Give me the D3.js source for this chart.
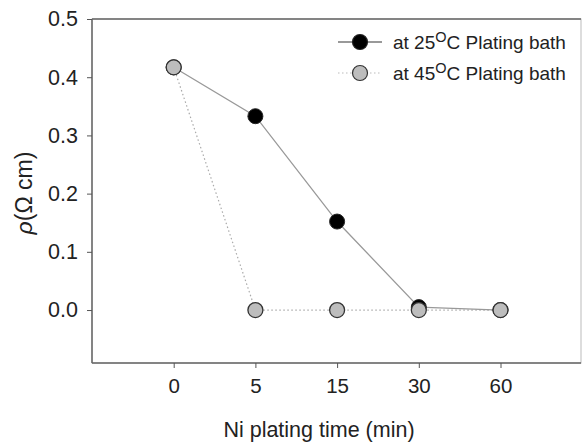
<!DOCTYPE html>
<html>
<head>
<meta charset="utf-8">
<script src="https://cdn.jsdelivr.net/npm/d3@7"></script>
<style>
body{margin:0;background:#fff;}
svg{display:block;font-family:Arial,"Liberation Sans",sans-serif;}
</style>
</head>
<body>
<svg id="chart" width="582" height="443"></svg>
<script>
const categories = ["0", "5", "15", "30", "60"];
const series25 = [0.417, 0.333, 0.152, 0.005, 0.0];
const series45 = [0.417, 0.0, 0.0, 0.0, 0.0];
const yTicks = [0.0, 0.1, 0.2, 0.3, 0.4, 0.5];
const legendLabels = ["at 25", "at 45"];

(function () {
const svg = d3.select("#chart");
const pL = 92, pR = 581, pT = 19, pB = 363;

const x = d3.scaleLinear().domain([-1, 5]).range([pL, pL + 6 * 81.7]);
const y = d3.scaleLinear().domain([-0.091, 0.5]).range([pB, pT]);

// frame
svg.append("rect").attr("x", pL).attr("y", pT).attr("width", pR - pL).attr("height", pB - pT)
  .attr("fill", "none").attr("stroke", "#bbb").attr("stroke-width", 1);
svg.append("line").attr("x1", pL).attr("x2", pR).attr("y1", pT).attr("y2", pT).attr("stroke", "#666").attr("stroke-width", 1.5);
svg.append("line").attr("x1", pL).attr("x2", pR).attr("y1", pB).attr("y2", pB).attr("stroke", "#666").attr("stroke-width", 1.5);
svg.append("line").attr("x1", pL).attr("x2", pL).attr("y1", pT).attr("y2", pB).attr("stroke", "#666").attr("stroke-width", 1.5);

// y axis
const yAxis = d3.axisLeft(y).tickValues(yTicks).tickFormat(d3.format(".1f")).tickSize(5).tickPadding(9);
const gy = svg.append("g").attr("transform", `translate(${pL},0)`).call(yAxis);
gy.select(".domain").remove();
gy.selectAll(".tick line").attr("stroke", "#555");
gy.selectAll(".tick text").attr("font-size", 21.5).attr("fill", "#222");

// x axis
const xAxis = d3.axisBottom(x).tickValues(d3.range(categories.length)).tickFormat(i => categories[i]).tickSize(5).tickPadding(10);
const gx = svg.append("g").attr("transform", `translate(0,${pB})`).call(xAxis);
gx.select(".domain").remove();
gx.selectAll(".tick line").attr("stroke", "#555");
gx.selectAll(".tick text").attr("font-size", 20.5).attr("fill", "#222");

// axis titles
svg.append("text").attr("x", 319).attr("y", 437).attr("text-anchor", "middle")
  .attr("font-size", 21.5).attr("fill", "#222").text("Ni plating time (min)");
const yt = svg.append("text").attr("transform", "translate(32,193) rotate(-90)").attr("text-anchor", "middle")
  .attr("font-size", 23).attr("fill", "#222");
yt.append("tspan").attr("font-style", "italic").text("ρ");
yt.append("tspan").text("(Ω cm)");

const line = d3.line().x((d, i) => x(i)).y(d => y(d));

// 45C series (dotted)
svg.append("path").datum(series45).attr("d", line).attr("fill", "none")
  .attr("stroke", "#aaa").attr("stroke-width", 1.2).attr("stroke-dasharray", "1.5,2.5");
// 25C series (solid)
svg.append("path").datum(series25).attr("d", line).attr("fill", "none")
  .attr("stroke", "#999").attr("stroke-width", 1.3);

svg.append("g").selectAll("circle").data(series25).join("circle")
  .attr("cx", (d, i) => x(i)).attr("cy", d => y(d)).attr("r", 7.5)
  .attr("fill", "#000").attr("stroke", "#222").attr("stroke-width", 1);
svg.append("g").selectAll("circle").data(series45).join("circle")
  .attr("cx", (d, i) => x(i)).attr("cy", d => y(d)).attr("r", 7.5)
  .attr("fill", "#bdbdbd").attr("stroke", "#333").attr("stroke-width", 1.3);

// legend
const legY = [42, 73];
const lg = svg.append("g");
legendLabels.forEach((lab, k) => {
  const g = lg.append("g");
  g.append("line").attr("x1", 338).attr("x2", 382).attr("y1", legY[k]).attr("y2", legY[k])
    .attr("stroke", k === 0 ? "#777" : "#bbb").attr("stroke-width", k === 0 ? 1.3 : 1.2)
    .attr("stroke-dasharray", k === 0 ? null : "1.5,2.5");
  g.append("circle").attr("cx", 360).attr("cy", legY[k]).attr("r", 7.5)
    .attr("fill", k === 0 ? "#000" : "#bdbdbd").attr("stroke", k === 0 ? "#222" : "#333").attr("stroke-width", 1.2);
  const t = g.append("text").attr("x", 393).attr("y", legY[k] + 7).attr("font-size", 19).attr("fill", "#222");
  t.append("tspan").text(lab);
  t.append("tspan").attr("dy", -7).attr("font-size", 14.5).text("O");
  t.append("tspan").attr("dy", 7).text("C Plating bath");
});
})();
</script>
</body>
</html>
